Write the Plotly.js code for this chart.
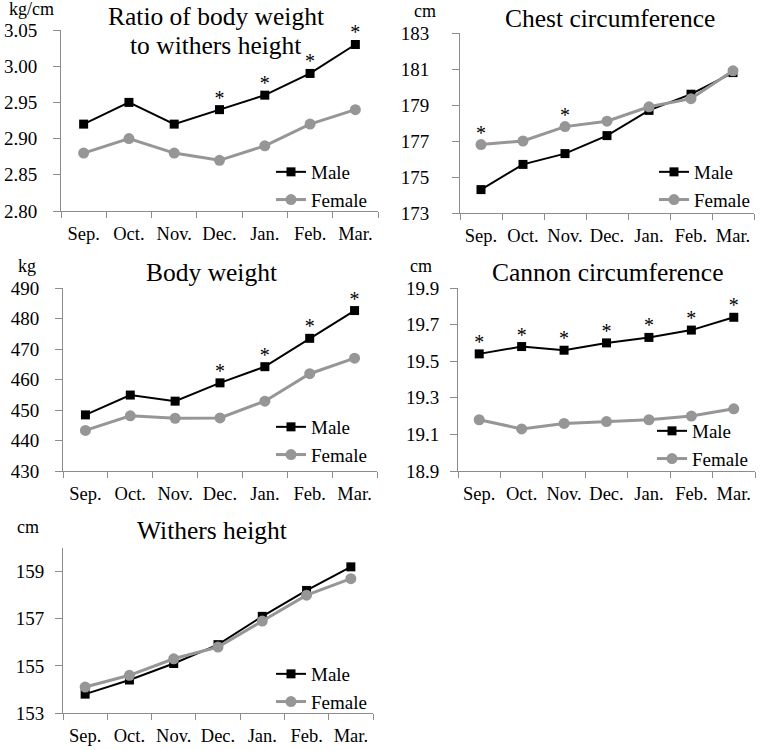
<!DOCTYPE html>
<html>
<head>
<meta charset="utf-8">
<script src="https://cdn.plot.ly/plotly-3.0.1.min.js"></script>
<style>html,body{margin:0;padding:0;background:#fff}#chart{width:775px;height:750px}</style>
</head>
<body>
<div id="chart"></div>
<script>
// ---- data ----
const months = ["Sep.", "Oct.", "Nov.", "Dec.", "Jan.", "Feb.", "Mar."];

const ratioMale   = [2.92, 2.95, 2.92, 2.94, 2.96, 2.99, 3.03];
const ratioFemale = [2.88, 2.90, 2.88, 2.87, 2.89, 2.92, 2.94];
const ratioSig    = ["", "", "", "*", "*", "*", "*"];   // on Male

const chestMale   = [174.3, 175.7, 176.3, 177.3, 178.7, 179.6, 180.8];
const chestFemale = [176.8, 177.0, 177.8, 178.1, 178.9, 179.35, 180.9];
const chestSig    = ["*", "", "*", "", "", "", ""];     // on Female

const weightMale   = [448.4, 454.9, 452.9, 458.9, 464.2, 473.5, 482.6];
const weightFemale = [443.3, 448.1, 447.3, 447.4, 452.9, 461.9, 467.0];
const weightSig    = ["", "", "", "*", "*", "*", "*"];  // on Male

const cannonMale   = [19.54, 19.58, 19.56, 19.60, 19.63, 19.67, 19.74];
const cannonFemale = [19.18, 19.13, 19.16, 19.17, 19.18, 19.20, 19.24];
const cannonSig    = ["*", "*", "*", "*", "*", "*", "*"]; // on Male

const withersMale   = [153.8, 154.4, 155.1, 155.9, 157.1, 158.2, 159.2];
const withersFemale = [154.1, 154.6, 155.3, 155.8, 156.9, 158.0, 158.7];

const panelTitles = [["Ratio of body weight", "to withers height"], ["Chest circumference"], ["Body weight"], ["Cannon circumference"], ["Withers height"]];
const unitLabels  = ["kg/cm", "cm", "kg", "cm", "cm"];

// ---- styles ----
const FONT = "Liberation Serif, Times New Roman, serif";
const MALE_C = "#000000";
const FEMALE_C = "#969696";
const AXIS_C = "#8c8c8c";

const panels = [
  {xa:"x",  ya:"y",  lg:"legend",  male:ratioMale,   female:ratioFemale,   sig:ratioSig,  sigOn:"male"},
  {xa:"x2", ya:"y2", lg:"legend2", male:chestMale,   female:chestFemale,   sig:chestSig,  sigOn:"female"},
  {xa:"x3", ya:"y3", lg:"legend3", male:weightMale,  female:weightFemale,  sig:weightSig, sigOn:"male"},
  {xa:"x4", ya:"y4", lg:"legend4", male:cannonMale,  female:cannonFemale,  sig:cannonSig, sigOn:"male"},
  {xa:"x5", ya:"y5", lg:"legend5", male:withersMale, female:withersFemale, sig:null,      sigOn:null}
];

const traces = [];
panels.forEach(p => {
  traces.push({
    x: months, y: p.male, xaxis: p.xa, yaxis: p.ya, legend: p.lg,
    name: "Male", mode: "lines+markers", type: "scatter",
    line: {color: MALE_C, width: 2}, marker: {symbol: "square", size: 9, color: MALE_C}
  });
  traces.push({
    x: months, y: p.female, xaxis: p.xa, yaxis: p.ya, legend: p.lg,
    name: "Female", mode: "lines+markers", type: "scatter",
    line: {color: FEMALE_C, width: 3}, marker: {symbol: "circle", size: 11, color: FEMALE_C}
  });
  if (p.sig) {
    traces.push({
      x: months, y: p.sigOn === "male" ? p.male : p.female, xaxis: p.xa, yaxis: p.ya,
      text: p.sig, mode: "text", type: "scatter", textposition: "top center", cliponaxis: false,
      textfont: {family: FONT, size: 20, color: "#000"}, showlegend: false, hoverinfo: "skip"
    });
  }
});

// panel geometry in pixels: [x0, x1, yTop, yBottom]
const geo = [
  [61, 378, 30, 211],
  [460, 754, 33, 213],
  [63, 377, 288, 471],
  [458, 755, 288, 471],
  [63, 373, 548, 713]
];
const W = 775, H = 750;
const yRanges = [[2.80, 3.05], [173, 183], [430, 490], [18.9, 19.9], [153, 160]];
const yDticks = [0.05, 2, 10, 0.2, 2];
const yFormats = [".2f", "d", "d", ".1f", "d"];
const yStandoff = [12, 19, 12, 7, 7];

const layout = {
  width: W, height: H,
  margin: {l: 0, r: 0, t: 0, b: 0},
  paper_bgcolor: "#fff", plot_bgcolor: "#fff",
  font: {family: FONT, size: 18, color: "#000"},
  showlegend: true,
  annotations: []
};

geo.forEach((g, i) => {
  const n = i === 0 ? "" : String(i + 1);
  layout["xaxis" + n] = {
    domain: [g[0] / W, g[1] / W], anchor: "y" + n,
    type: "category", categoryorder: "array", categoryarray: months,
    range: [-0.5, 6.5], tickson: "boundaries", tickangle: 0,
    ticks: "outside", ticklen: 6, tickcolor: AXIS_C, tickwidth: 1,
    showline: true, linecolor: AXIS_C, linewidth: 1, showgrid: false, zeroline: false,
    tickfont: {family: FONT, size: 18.5, color: "#000"}, ticklabelstandoff: 6, fixedrange: true
  };
  layout["yaxis" + n] = {
    domain: [1 - g[3] / H, 1 - g[2] / H], anchor: "x" + n,
    range: yRanges[i], tick0: yRanges[i][0], dtick: yDticks[i], tickformat: yFormats[i],
    ticks: "outside", ticklen: 7, tickcolor: AXIS_C, tickwidth: 1,
    showline: true, linecolor: AXIS_C, linewidth: 1, showgrid: false, zeroline: false,
    tickfont: {family: FONT, size: 19, color: "#000"}, ticklabelstandoff: yStandoff[i], fixedrange: true
  };
});

// legends
const legPos = [[271, 153], [654, 153], [271, 408], [652, 412], [271, 655]];
legPos.forEach((lp, i) => {
  const key = i === 0 ? "legend" : "legend" + (i + 1);
  layout[key] = {
    x: lp[0] / W, y: 1 - lp[1] / H, xanchor: "left", yanchor: "top",
    bgcolor: "rgba(0,0,0,0)", borderwidth: 0,
    font: {family: FONT, size: 19, color: "#000"}, itemwidth: 30, tracegroupgap: 0
  };
});

// titles (one annotation per line)
const titlePos = [[216, 17], [610, 18], [211, 272], [608, 272], [212, 530]];
const lineGap = 28;
titlePos.forEach((tp, i) => {
  panelTitles[i].forEach((line, k) => {
    layout.annotations.push({
      text: line, xref: "paper", yref: "paper", x: tp[0] / W, y: 1 - (tp[1] + k * lineGap) / H,
      xanchor: "center", yanchor: "middle", showarrow: false,
      font: {family: FONT, size: 25.5, color: "#000"}
    });
  });
});
// unit labels
const unitPos = [[31, 9], [425, 11], [27, 266], [421, 266], [28, 527]];
unitPos.forEach((up, i) => {
  layout.annotations.push({
    text: unitLabels[i], xref: "paper", yref: "paper", x: up[0] / W, y: 1 - up[1] / H,
    xanchor: "center", yanchor: "middle", showarrow: false,
    font: {family: FONT, size: 18, color: "#000"}
  });
});

Plotly.newPlot("chart", traces, layout, {displayModeBar: false, staticPlot: true});
</script>
</body>
</html>
